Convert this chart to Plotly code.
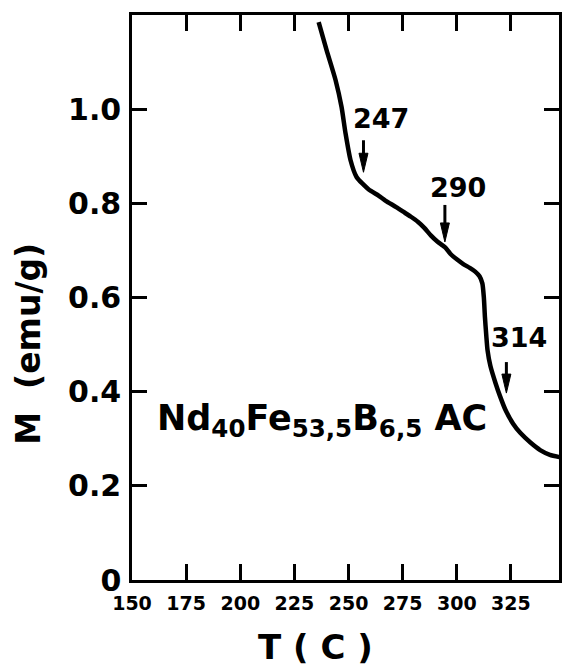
import plotly.graph_objects as go

# Magnetization curve M(T)
temperature = [236.2, 239.9, 244.0, 246.8, 248.6, 250.9, 253.7, 259.2, 264.0, 267.0,
               272.0, 276.0, 279.0, 282.0, 285.0, 288.0, 291.0, 294.5, 297.0, 300.0,
               303.0, 306.0, 308.5, 310.5, 311.8, 312.5, 313.0, 313.6, 314.2, 315.5,
               317.9, 320.0, 322.5, 326.0, 329.4, 334.0, 338.5, 343.0, 347.5]
magnetization = [1.185, 1.125, 1.062, 1.004, 0.949, 0.892, 0.856, 0.830, 0.816, 0.806,
                 0.792, 0.780, 0.771, 0.761, 0.748, 0.732, 0.719, 0.707, 0.693, 0.681,
                 0.671, 0.663, 0.655, 0.645, 0.630, 0.600, 0.558, 0.520, 0.488, 0.455,
                 0.418, 0.390, 0.361, 0.332, 0.312, 0.292, 0.276, 0.266, 0.261]

# Transition markers
marker_labels = ["247", "290", "314"]
marker_tip_T = [256.9, 294.5, 322.9]
marker_tip_M = [0.866, 0.718, 0.397]
marker_len_px = [32, 37, 31]
label_T = [265.1, 300.5, 328.9]
label_M = [0.981, 0.834, 0.514]

x_ticks = [150, 175, 200, 225, 250, 275, 300, 325]
x_ticktext = ["150", "175", "200", "225", "250", "275", "300", "325"]
y_ticks = [0, 0.2, 0.4, 0.6, 0.8, 1.0]
y_ticktext = ["0", "0.2", "0.4", "0.6", "0.8", "1.0"]

FONT = "DejaVu Sans"
HEAD_LEN = 19
HEAD_HALF_W = 4.5

fig = go.Figure()
fig.add_trace(go.Scatter(
    x=temperature, y=magnetization, mode="lines",
    line=dict(color="black", width=4.5, shape="spline", smoothing=0.6),
    hoverinfo="skip", showlegend=False,
))

shapes = []
annotations = []
for lab, tx, ty, ln, lx, ly in zip(marker_labels, marker_tip_T, marker_tip_M,
                                   marker_len_px, label_T, label_M):
    # arrow stem
    shapes.append(dict(
        type="line", xref="x", yref="y",
        xsizemode="pixel", ysizemode="pixel", xanchor=tx, yanchor=ty,
        x0=0, x1=0, y0=HEAD_LEN - 2, y1=ln,
        line=dict(color="black", width=3),
    ))
    # arrow head
    shapes.append(dict(
        type="path", xref="x", yref="y",
        xsizemode="pixel", ysizemode="pixel", xanchor=tx, yanchor=ty,
        path=f"M {-HEAD_HALF_W} {HEAD_LEN} L {HEAD_HALF_W} {HEAD_LEN} L 0 0 Z",
        fillcolor="black", line=dict(color="black", width=1),
    ))
    annotations.append(dict(
        x=lx, y=ly, xref="x", yref="y", text=lab, showarrow=False,
        font=dict(family=FONT, size=27, color="black", weight="bold"),
        xanchor="center", yanchor="middle",
    ))

annotations.append(dict(
    x=160.5, y=0.338, xref="x", yref="y",
    text="Nd<sub>40</sub>Fe<sub>53,5</sub>B<sub>6,5</sub> AC",
    showarrow=False, xanchor="left", yanchor="middle",
    font=dict(family=FONT, size=35, color="black", weight="bold"),
))

plot_w = 566 - 132 - 4
plot_h = 670 - 15 - 90
annotations.append(dict(
    x=(317 - 132) / plot_w, y=(670 - 90 - 647) / plot_h,
    xref="paper", yref="paper", text="T ( C )",
    xanchor="center", yanchor="middle",
    showarrow=False, font=dict(family=FONT, size=34, color="black", weight="bold"),
))
annotations.append(dict(
    x=(27 - 132) / plot_w, y=(670 - 90 - 344) / plot_h,
    xref="paper", yref="paper", text="M  (emu/g)", textangle=-90,
    xanchor="center", yanchor="middle",
    showarrow=False, font=dict(family=FONT, size=33, color="black", weight="bold"),
))

fig.update_layout(
    width=566, height=670,
    margin=dict(l=132, r=4, t=15, b=90),
    paper_bgcolor="white", plot_bgcolor="white",
    annotations=annotations, shapes=shapes,
    xaxis=dict(
        range=[150, 347.2], tickvals=x_ticks, ticktext=x_ticktext,
        ticks="inside", ticklen=16, tickwidth=2.5, tickcolor="black",
        showline=True, linewidth=2.5, linecolor="black", mirror="allticks",
        showgrid=False, zeroline=False,
        tickfont=dict(family=FONT, size=19, color="black", weight="bold"),
        ticklabelstandoff=4,
    ),
    yaxis=dict(
        range=[0, 1.2], tickvals=y_ticks, ticktext=y_ticktext,
        ticks="inside", ticklen=15, tickwidth=2.5, tickcolor="black",
        showline=True, linewidth=2.5, linecolor="black", mirror="allticks",
        showgrid=False, zeroline=False,
        tickfont=dict(family=FONT, size=30, color="black", weight="bold"),
        ticklabelstandoff=2,
    ),
)

fig.write_html("out.html")
